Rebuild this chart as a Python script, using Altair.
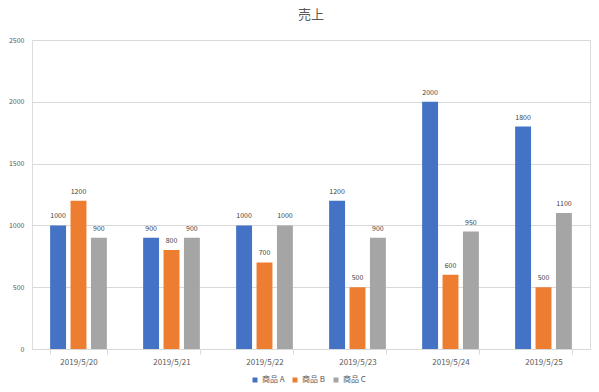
import altair as alt
import pandas as pd

dates = ["2019/5/20", "2019/5/21", "2019/5/22", "2019/5/23", "2019/5/24", "2019/5/25"]
products = ["商品 A", "商品 B", "商品 C"]
sales_a = [1000, 900, 1000, 1200, 2000, 1800]
sales_b = [1200, 800, 700, 500, 600, 500]
sales_c = [900, 900, 1000, 900, 950, 1100]
colors = ["#4472C4", "#ED7D31", "#A5A5A5"]

rows = []
for p, vals in zip(products, [sales_a, sales_b, sales_c]):
    for d, v in zip(dates, vals):
        rows.append({"date": d, "product": p, "value": v})
df = pd.DataFrame(rows)

FONT = "Noto Sans CJK JP"

x = alt.X("date:N", sort=dates, title=None,
          scale=alt.Scale(paddingInner=0.39, paddingOuter=0.195),
          axis=alt.Axis(labelAngle=0, labelFontSize=8, labelColor="#595959",
                        domainColor="#D9D9D9", tickColor="#D9D9D9", tickBand="extent",
                        tickSize=5, labelPadding=4, labelFont=FONT))
xo = alt.XOffset("product:N", sort=products, scale=alt.Scale(paddingInner=0.22))
y = alt.Y("value:Q", title=None, scale=alt.Scale(domain=[0, 2500]),
          axis=alt.Axis(values=[0, 500, 1000, 1500, 2000, 2500], domain=False, ticks=False,
                        format="d",
                        gridColor="#D9D9D9", labelFontSize=7, labelColor="#595959",
                        labelPadding=8, labelFont=FONT))

bars = alt.Chart(df).mark_bar().encode(
    x=x, xOffset=xo, y=y,
    color=alt.Color("product:N", sort=products,
                    scale=alt.Scale(domain=products, range=colors),
                    legend=alt.Legend(title=None, orient="none", direction="horizontal",
                                      legendX=219, legendY=336,
                                      symbolType="square", symbolSize=25, labelOffset=3,
                                      labelFontSize=8, labelColor="#595959", labelFont=FONT,
                                      columnPadding=6, symbolStrokeWidth=0)),
)
labels = alt.Chart(df).mark_text(dy=-9, fontSize=7, fill="#404040", font=FONT).encode(
    x=x, xOffset=xo, y=y, text=alt.Text("value:Q", format="d"),
)

chart = alt.layer(bars, labels).properties(
    width=558, height=309,
    title=alt.TitleParams("売上", fontSize=13, color="#595959", font=FONT,
                          fontWeight="normal", offset=14, anchor="middle"),
    autosize=alt.AutoSizeParams(type="none"),
    padding={"left": 24, "top": 32, "right": 1, "bottom": 35},
).configure_view(stroke=None).configure(background="white")

chart.save("out.html", embed_options={"renderer": "svg", "actions": False})
